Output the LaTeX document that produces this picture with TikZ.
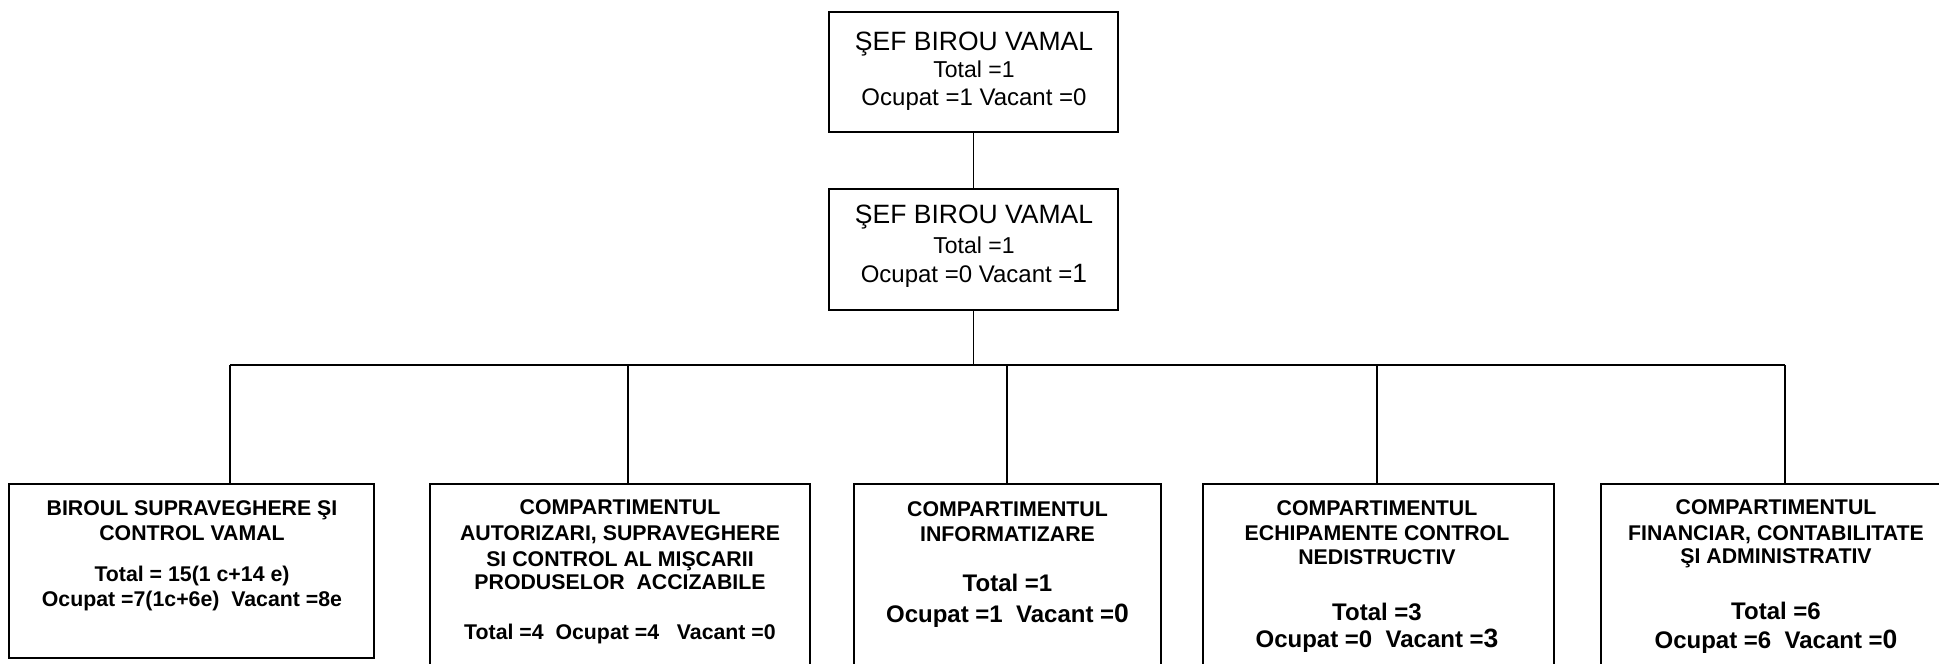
\documentclass[tikz,border=0pt]{standalone}
\usepackage{fontspec}
\setmainfont{Liberation Sans}
\newcommand{\bigd}[1]{{\fontsize{26.5}{28}\selectfont #1}}
\begin{document}
\begin{tikzpicture}[x=1pt,y=1pt]
\tikzset{
 box/.style={draw, line width=1.8pt, rectangle, inner sep=0pt},
 ln/.style={line width=1.8pt},
 hd/.style={anchor=base, inner sep=0pt, font=\bfseries\fontsize{21.3}{25}\selectfont},
 ct/.style={anchor=base, inner sep=0pt, font=\bfseries\fontsize{24}{28}\selectfont},
 tp/.style={anchor=base, inner sep=0pt, font=\fontsize{26.5}{30}\selectfont},
 tq/.style={anchor=base, inner sep=0pt, font=\fontsize{23}{28}\selectfont},
 tr/.style={anchor=base, inner sep=0pt, font=\fontsize{24}{28}\selectfont},
}
\clip (0,0) rectangle (1939,-664);
% boxes
\node[box, minimum width=289pt, minimum height=120pt] (top) at (973.5,-72) {};
\node[box, minimum width=289pt, minimum height=121pt] (mid) at (973.5,-249.5) {};
\node[box, minimum width=365pt, minimum height=174pt] (b1) at (191.5,-571) {};
\node[box, minimum width=380pt, minimum height=206pt] (b2) at (620,-587) {};
\node[box, minimum width=307pt, minimum height=206pt] (b3) at (1007.5,-587) {};
\node[box, minimum width=351pt, minimum height=206pt] (b4) at (1378.5,-587) {};
\node[box, minimum width=359pt, minimum height=206pt] (b5) at (1780.5,-587) {};
% connectors
\coordinate (bus) at (973.5,-365);
\coordinate (j1) at (230,-365);
\coordinate (j2) at (628,-365);
\coordinate (j3) at (1007,-365);
\coordinate (j4) at (1377,-365);
\coordinate (j5) at (1785,-365);
\draw[ln] (top.south) -- (mid.north);
\draw[ln] (mid.south) -- (bus);
\draw[ln] (j1) -- (j5);
\draw[ln] (j1) -- (j1 |- b1.north);
\draw[ln] (j2) -- (j2 |- b2.north);
\draw[ln] (j3) -- (j3 |- b3.north);
\draw[ln] (j4) -- (j4 |- b4.north);
\draw[ln] (j5) -- (j5 |- b5.north);
% top box text
\node[tp] (t1) at (974,-50) {ŞEF BIROU VAMAL};
\node[tq] (t2) at (974,-77) {Total =1};
\node[tr] (t3) at (974,-105) {Ocupat =1 Vacant =0};
% mid box text
\node[tp] (m1) at (974,-223) {ŞEF BIROU VAMAL};
\node[tq] (m2) at (974,-253) {Total =1};
\node[tr] (m3) at (974,-282) {Ocupat =0 Vacant =\bigd{1}};
% box 1
\node[hd] (a1) at (192,-515.7) {BIROUL SUPRAVEGHERE ŞI};
\node[hd] (a2) at (192,-540.7) {CONTROL VAMAL};
\node[hd] (a3) at (192,-581) {Total = 15(1 c+14 e)};
\node[hd] (a4) at (192,-606) {Ocupat =7(1c+6e)\ \ Vacant =8e};
% box 2
\node[hd] (c1) at (620,-514) {COMPARTIMENTUL};
\node[hd] (c2) at (620,-540) {AUTORIZARI, SUPRAVEGHERE};
\node[hd] (c3) at (620,-566.7) {SI CONTROL AL MIŞCARII};
\node[hd] (c4) at (620,-589.3) {PRODUSELOR\ \ ACCIZABILE};
\node[hd] (c5) at (620,-639.3) {Total =4\ \ Ocupat =4\ \ \ Vacant =0};
% box 3
\node[hd] (d1) at (1007.5,-516) {COMPARTIMENTUL};
\node[hd] (d2) at (1007.5,-541) {INFORMATIZARE};
\node[ct] (d3) at (1007.5,-591) {Total =1};
\node[ct] (d4) at (1007.5,-622.7) {Ocupat =1\ \ Vacant =\bigd{0}};
% box 4
\node[hd] (e1) at (1377,-515) {COMPARTIMENTUL};
\node[hd] (e2) at (1377,-540) {ECHIPAMENTE CONTROL};
\node[hd] (e3) at (1377,-564.3) {NEDISTRUCTIV};
\node[ct] (e4) at (1377,-620) {Total =3};
\node[ct] (e5) at (1377,-647.7) {Ocupat =0\ \ Vacant =\bigd{3}};
% box 5
\node[hd] (f1) at (1776,-514.3) {COMPARTIMENTUL};
\node[hd] (f2) at (1776,-540) {FINANCIAR, CONTABILITATE};
\node[hd] (f3) at (1776,-563.3) {ŞI ADMINISTRATIV};
\node[ct] (f4) at (1776,-619.3) {Total =6};
\node[ct] (f5) at (1776,-648.3) {Ocupat =6\ \ Vacant =\bigd{0}};
\end{tikzpicture}
\end{document}
